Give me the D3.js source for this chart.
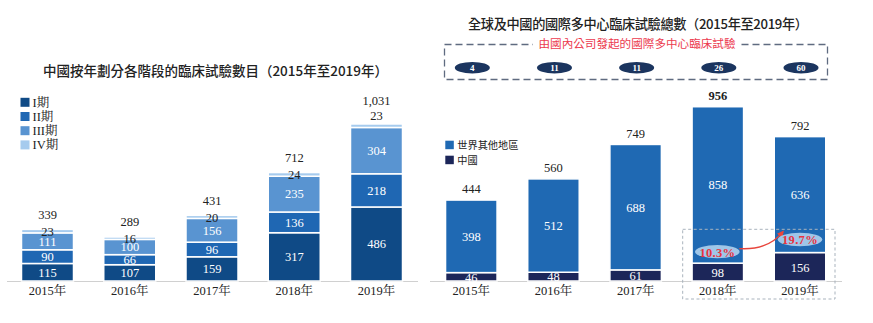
<!DOCTYPE html>
<html><head><meta charset="utf-8">
<script src="https://cdn.jsdelivr.net/npm/d3@7"></script>
<style>
html,body{margin:0;padding:0;background:#fff;}
svg{display:block;}
</style></head>
<body>
<svg id="c" width="873" height="323"></svg>
<script>
// ---- data ----
const years = ["2015年","2016年","2017年","2018年","2019年"];
const phaseNames = ["I期","II期","III期","IV期"];
const phase1 = [115,107,159,317,486];
const phase2 = [90,66,96,136,218];
const phase3 = [111,100,156,235,304];
const phase4 = [23,16,20,24,23];
const phaseTotals = [339,289,431,712,1031];

const mrctNames = ["世界其他地區","中國"];
const mrctChina = [46,48,61,98,156];
const mrctOther = [398,512,688,858,636];
const mrctTotals = [444,560,749,956,792];
const domesticSponsored = [4,11,11,26,60];
const chinaShareLabels = ["10.3%","19.7%"]; // 2018, 2019

const titleLeft = "中國按年劃分各階段的臨床試驗數目（2015年至2019年）";
const titleRight = "全球及中國的國際多中心臨床試驗總數（2015年至2019年）";
const boxLabel = "由國內公司發起的國際多中心臨床試驗";

// ---- styles ----
const serif = "'Liberation Serif','Times New Roman','Noto Serif CJK TC','Noto Sans CJK TC',serif";
const sans = "'Noto Sans CJK TC','Noto Sans',sans-serif";
const phaseColors = ["#0f4a86","#1f67b3","#5994d1","#a6cbee"];
const otherColor = "#1f69b3", chinaColor = "#1c2659";

const svg = d3.select("#c");
const base = 281;

// ---- left chart ----
const xL = d3.scalePoint().domain(years).range([47.5, 376.5]);
const yL = d3.scaleLinear().domain([0, 1000]).range([base, base - 152.3]);
const bwL = 52;

svg.append("line").attr("x1",7).attr("x2",418).attr("y1",base+0.5).attr("y2",base+0.5)
  .attr("stroke","#d0d0d0").attr("stroke-width",1.2);

const phases = [phase1, phase2, phase3, phase4];
const stackL = years.map((y,i)=>{
  let acc = 0;
  return phases.map((arr,k)=>{ const s={year:y,k,v:arr[i],y0:acc,y1:acc+arr[i],i}; acc+=arr[i]; return s;});
});
const gL = svg.append("g");
stackL.flat().forEach(s=>{
  gL.append("rect").attr("x", xL(s.year)-bwL/2).attr("width", bwL)
    .attr("y", yL(s.y1)).attr("height", yL(s.y0)-yL(s.y1))
    .attr("fill", phaseColors[s.k]).attr("stroke","#fff").attr("stroke-width",1.5);
});
stackL.flat().forEach(s=>{
  let ty = (yL(s.y0)+yL(s.y1))/2;
  let fill = "#fff";
  if (s.k===3){ fill="#222"; ty = (s.i===4) ? yL(s.y1)-8 : ty+0.5; }
  gL.append("text").attr("x", xL(s.year)).attr("y", ty).attr("dy","0.35em")
    .attr("text-anchor","middle").attr("font-family",serif).attr("font-size",12.5)
    .attr("fill",fill).text(s.v);
});
years.forEach((y,i)=>{
  const top = yL(phaseTotals[i]);
  gL.append("text").attr("x", xL(y)).attr("y", top - (i===4?23:15)).attr("dy","0.35em")
    .attr("text-anchor","middle").attr("font-family",serif).attr("font-size",12.5)
    .attr("fill","#222").text(d3.format(",")(phaseTotals[i]));
  gL.append("text").attr("x", xL(y)).attr("y", 291).attr("dy","0.35em")
    .attr("text-anchor","middle").attr("font-family",serif).attr("font-size",12.5)
    .attr("fill","#222").text(y);
});
// left legend
phaseNames.forEach((n,k)=>{
  const cy = 102.3 + k*14.2;
  svg.append("rect").attr("x",20.5).attr("y",cy-4.5).attr("width",9).attr("height",9).attr("fill",phaseColors[k]);
  svg.append("text").attr("x",32.5).attr("y",cy).attr("dy","0.35em").attr("font-family",serif)
    .attr("font-size",12.5).attr("fill","#222").text(n);
});
svg.append("text").attr("x",215.5).attr("y",71.7).attr("dy","0.35em").attr("text-anchor","middle")
  .attr("font-family",sans).attr("font-size",13.5).attr("font-weight",500).attr("fill","#222")
  .attr("textLength",345).attr("lengthAdjust","spacing").text(titleLeft);

// ---- right chart ----
const xR = d3.scalePoint().domain(years).range([471.3, 800]);
const yR = d3.scaleLinear().domain([0, 1000]).range([base, base - 182.3]);
const bwR = 51.5;

svg.append("line").attr("x1",430).attr("x2",842).attr("y1",base+0.5).attr("y2",base+0.5)
  .attr("stroke","#d0d0d0").attr("stroke-width",1.2);

svg.append("text").attr("x",638).attr("y",24).attr("dy","0.35em").attr("text-anchor","middle")
  .attr("font-family",sans).attr("font-size",13.2).attr("font-weight",500).attr("fill","#222")
  .attr("textLength",340).attr("lengthAdjust","spacing").text(titleRight);

// dashed box with domestic sponsored counts
svg.append("rect").attr("x",444.5).attr("y",44.5).attr("width",383).attr("height",35)
  .attr("fill","none").attr("stroke","#5f6b80").attr("stroke-width",1.3).attr("stroke-dasharray","7,4");
svg.append("rect").attr("x",533).attr("y",36).attr("width",208).attr("height",16).attr("fill","#fff");
svg.append("text").attr("x",637).attr("y",44.3).attr("dy","0.35em").attr("text-anchor","middle")
  .attr("font-family",sans).attr("font-size",11.6).attr("fill","#ec3a4e").text(boxLabel);
years.forEach((y,i)=>{
  svg.append("ellipse").attr("cx", xR(y)+1).attr("cy",67.7).attr("rx",17.5).attr("ry",5.8).attr("fill","#1b355f");
  svg.append("text").attr("x", xR(y)+1).attr("y",67.9).attr("dy","0.35em").attr("text-anchor","middle")
    .attr("font-family",serif).attr("font-size",9).attr("font-weight","bold").attr("fill","#fff")
    .text(domesticSponsored[i]);
});

const gR = svg.append("g");
years.forEach((y,i)=>{
  const x0 = xR(y)-bwR/2;
  gR.append("rect").attr("x",x0).attr("width",bwR).attr("y",yR(mrctChina[i])).attr("height",base-yR(mrctChina[i]))
    .attr("fill",chinaColor).attr("stroke","#fff").attr("stroke-width",1.5);
  gR.append("rect").attr("x",x0).attr("width",bwR).attr("y",yR(mrctChina[i]+mrctOther[i]))
    .attr("height",yR(mrctChina[i])-yR(mrctChina[i]+mrctOther[i]))
    .attr("fill",otherColor).attr("stroke","#fff").attr("stroke-width",1.5);
  gR.append("text").attr("x",xR(y)).attr("y",(base+yR(mrctChina[i]))/2+0.5).attr("dy","0.35em")
    .attr("text-anchor","middle").attr("font-family",serif).attr("font-size",12.5).attr("fill","#fff").text(mrctChina[i]);
  gR.append("text").attr("x",xR(y)).attr("y",(yR(mrctChina[i])+yR(mrctChina[i]+mrctOther[i]))/2).attr("dy","0.35em")
    .attr("text-anchor","middle").attr("font-family",serif).attr("font-size",12.5).attr("fill","#fff").text(mrctOther[i]);
  gR.append("text").attr("x",xR(y)).attr("y",yR(mrctTotals[i])-11).attr("dy","0.35em")
    .attr("text-anchor","middle").attr("font-family",serif).attr("font-size",12.5).attr("fill","#222")
    .attr("font-weight", i===3 ? "bold" : "normal").text(mrctTotals[i]);
  gR.append("text").attr("x",xR(y)).attr("y",291).attr("dy","0.35em")
    .attr("text-anchor","middle").attr("font-family",serif).attr("font-size",12.5).attr("fill","#222").text(y);
});

// right legend
[otherColor, chinaColor].forEach((c,k)=>{
  const cy = 145 + k*15;
  svg.append("rect").attr("x",445.3).attr("y",cy-4.3).attr("width",8.5).attr("height",8.5).attr("fill",c);
  svg.append("text").attr("x",457.3).attr("y",cy).attr("dy","0.35em").attr("font-family",sans)
    .attr("font-size",10.2).attr("fill","#222").text(mrctNames[k]);
});

// highlight box 2018-2019
svg.append("rect").attr("x",682.7).attr("y",229.3).attr("width",152.3).attr("height",69.7)
  .attr("fill","none").attr("stroke","#a9b3bd").attr("stroke-width",1).attr("stroke-dasharray","3,2.5");

// share ellipses
const ellPos = [[xR(years[3])-0.5, yR(mrctChina[3])-11.5],[xR(years[4]), yR(mrctChina[4])-13]];
// arrow
svg.append("defs").append("marker").attr("id","ah").attr("viewBox","0 0 10 10").attr("refX",8).attr("refY",5)
  .attr("markerWidth",5).attr("markerHeight",5).attr("orient","auto")
  .append("path").attr("d","M0,0 L10,5 L0,10 z").attr("fill","#e8453c");
svg.append("path")
  .attr("d", `M${ellPos[0][0]+22},${ellPos[0][1]-3} C${ellPos[0][0]+38},${ellPos[0][1]-2} ${ellPos[1][0]-28},${ellPos[1][1]+6} ${ellPos[1][0]-17},${ellPos[1][1]-8}`)
  .attr("fill","none").attr("stroke","#e8453c").attr("stroke-width",1.4).attr("marker-end","url(#ah)");
ellPos.forEach((p,k)=>{
  svg.append("ellipse").attr("cx",p[0]).attr("cy",p[1]).attr("rx",22.3).attr("ry",6.7).attr("fill","#9fc6e8");
  svg.append("text").attr("x",p[0]).attr("y",p[1]+0.5).attr("dy","0.35em").attr("text-anchor","middle")
    .attr("font-family",serif).attr("font-size",12.5).attr("font-weight","bold").attr("fill","#e8323f")
    .attr("letter-spacing",0.3).text(chinaShareLabels[k]);
});
</script>
</body></html>
